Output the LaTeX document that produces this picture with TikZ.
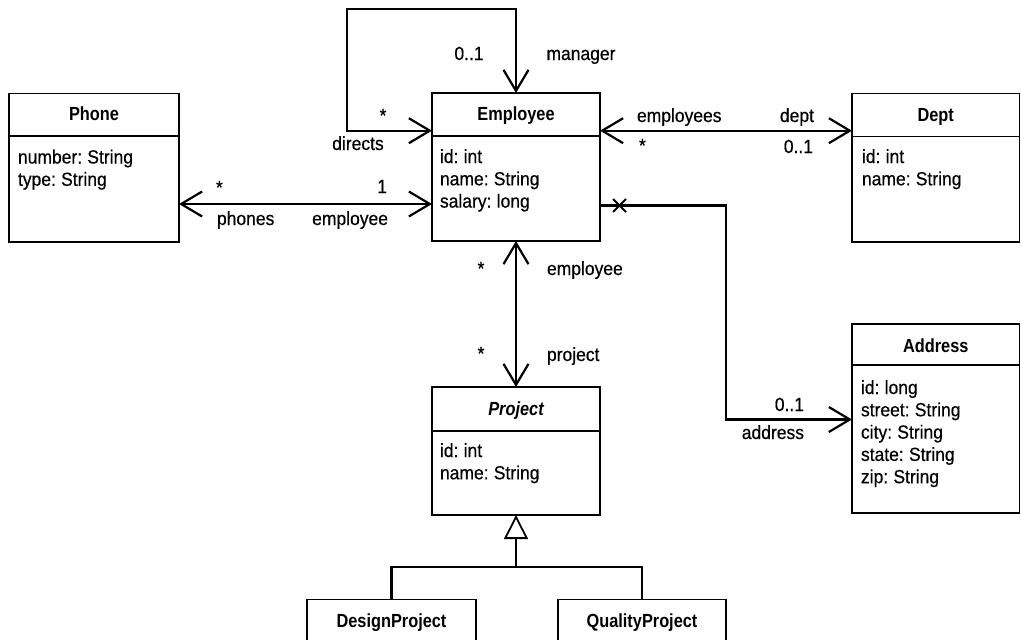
\documentclass[tikz,border=0pt]{standalone}
\usepackage{fontspec}
\setmainfont{Liberation Sans}[FakeStretch=0.92,FakeBold=0.5,WordSpace=0.75,BoldFeatures={FakeStretch=0.86,FakeBold=0},BoldItalicFeatures={FakeStretch=0.86,FakeBold=0}]
\usetikzlibrary{arrows.meta}
\newcommand\umlfs{\fontsize{19}{22.3}\selectfont}
\begin{document}
\begin{tikzpicture}[x=1pt,y=-1pt,
  every node/.style={inner sep=0pt,outer sep=0pt},
  cls/.style={draw,line width=1.7pt,rectangle,inner sep=0pt},
  hdr/.style={line width=1.7pt},
  lbl/.style={font=\umlfs},
  ttl/.style={font=\umlfs\bfseries,anchor=base},
  attr/.style={font=\umlfs,anchor=base west},
  assoc/.style={line width=2.2pt,{Straight Barb[length=21pt,width=25pt]}-{Straight Barb[length=21pt,width=25pt]}},
  nav/.style={line width=2.2pt,-{Straight Barb[length=21pt,width=25pt]}},
  gen/.style={line width=2.2pt},
  inh/.style={line width=1.8pt,-{Triangle[open,length=24pt,width=24pt]}}]
\useasboundingbox (0,0) rectangle (1021,640);
\clip (0,0) rectangle (1021,640);

% ---------- classes ----------
\node[cls,minimum width=170pt,minimum height=148.5pt] (phone) at (94,167.75) {};
\draw[hdr] (phone.west |- 0,136) -- (phone.east |- 0,136);
\node[ttl] (phone-t) at (94,120.5) {Phone};
\node[attr] (phone-a1) at (18,163.5) {number: String};
\node[attr] (phone-a2) at (18,185.8) {type: String};

\node[cls,minimum width=168pt,minimum height=148pt] (emp) at (516,167) {};
\draw[hdr] (emp.west |- 0,136) -- (emp.east |- 0,136);
\node[ttl] (emp-t) at (516,120) {Employee};
\node[attr] (emp-a1) at (440,163) {id: int};
\node[attr] (emp-a2) at (440,185.3) {name: String};
\node[attr] (emp-a3) at (440,207.6) {salary: long};

\node[cls,minimum width=167.5pt,minimum height=148.5pt] (dept) at (935.75,167.75) {};
\draw[hdr] (dept.west |- 0,136.5) -- (dept.east |- 0,136.5);
\node[ttl] (dept-t) at (935.75,121) {Dept};
\node[attr] (dept-a1) at (862,163) {id: int};
\node[attr] (dept-a2) at (862,185.3) {name: String};

\node[cls,minimum width=167.5pt,minimum height=189pt] (addr) at (935.75,418.5) {};
\draw[hdr] (addr.west |- 0,365) -- (addr.east |- 0,365);
\node[ttl] (addr-t) at (935.75,352) {Address};
\node[attr] (addr-a1) at (861,394) {id: long};
\node[attr] (addr-a2) at (861,416.3) {street: String};
\node[attr] (addr-a3) at (861,438.6) {city: String};
\node[attr] (addr-a4) at (861,460.9) {state: String};
\node[attr] (addr-a5) at (861,483.2) {zip: String};

\node[cls,minimum width=168pt,minimum height=128pt] (proj) at (516,451) {};
\draw[hdr] (proj.west |- 0,431) -- (proj.east |- 0,431);
\node[ttl] (proj-t) at (516,415) {\itshape Project};
\node[attr] (proj-a1) at (440,457) {id: int};
\node[attr] (proj-a2) at (440,479.3) {name: String};

\node[cls,minimum width=169pt,minimum height=160.5pt] (design) at (391.5,679.75) {};
\node[ttl] (design-t) at (391.5,627) {DesignProject};
\node[cls,minimum width=168pt,minimum height=160.5pt] (quality) at (642,679.75) {};
\node[ttl] (quality-t) at (642,627) {QualityProject};

% ---------- self association ----------
\coordinate (lpTL) at (347,9);
\coordinate (lpBL) at (347,130.7);
\draw[assoc] (emp.west |- lpBL) -- (lpBL) -- (lpTL) -- (emp.north |- lpTL) -- (emp.north);
\node[lbl,anchor=base] (l-mgr-m) at (469,60) {0..1};
\node[lbl,anchor=base] (l-mgr) at (581,60) {manager};
\node[lbl,anchor=base] (l-dir-m) at (383,122) {*};
\node[lbl,anchor=base] (l-dir) at (358,150) {directs};

% ---------- phones ----------
\coordinate (phY) at (0,204);
\draw[assoc] (phone.east |- phY) -- (emp.west |- phY);
\node[lbl,anchor=base west] (l-ph-m) at (216,194) {*};
\node[lbl,anchor=base east] (l-em-m) at (387,193) {1};
\node[lbl,anchor=base west] (l-ph) at (217,225) {phones};
\node[lbl,anchor=base east] (l-em) at (388,225) {employee};

% ---------- dept ----------
\coordinate (dpY) at (0,130.7);
\draw[assoc] (emp.east |- dpY) -- (dept.west |- dpY);
\node[lbl,anchor=base west] (l-emps) at (637,122) {employees};
\node[lbl,anchor=base east] (l-dept) at (814,122) {dept};
\node[lbl,anchor=base west] (l-emps-m) at (639,152) {*};
\node[lbl,anchor=base east] (l-dept-m) at (813,153) {0..1};

% ---------- address ----------
\coordinate (adA) at (726,205.5);
\coordinate (adB) at (726,419.5);
\draw[nav] (emp.east |- adA) -- (adA) -- (adB) -- (addr.west |- adB);
\coordinate (xm) at (619.5,205.5);
\draw[line width=2pt] ([shift={(-6.5,-6.5)}]xm) -- ([shift={(6.5,6.5)}]xm);
\draw[line width=2pt] ([shift={(-6.5,6.5)}]xm) -- ([shift={(6.5,-6.5)}]xm);
\node[lbl,anchor=base east] (l-addr-m) at (804,411) {0..1};
\node[lbl,anchor=base east] (l-addr) at (804,439) {address};

% ---------- employee / project ----------
\draw[assoc] (emp.south) -- (proj.north);
\node[lbl,anchor=base] (l-ep-m1) at (481,275) {*};
\node[lbl,anchor=base west] (l-ep-e) at (547,275) {employee};
\node[lbl,anchor=base] (l-ep-m2) at (481,360) {*};
\node[lbl,anchor=base west] (l-ep-p) at (547,361) {project};

% ---------- generalization ----------
\coordinate (gY) at (0,567);
\draw[inh] (proj.south |- gY) -- (proj.south);
\draw[gen] (design.north) -- (design.north |- gY) -- (quality.north |- gY) -- (quality.north);
\end{tikzpicture}
\end{document}
